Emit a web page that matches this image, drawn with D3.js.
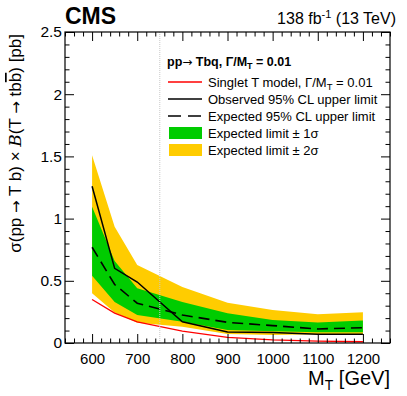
<!DOCTYPE html>
<html><head><meta charset="utf-8">
<script src="https://cdn.jsdelivr.net/npm/d3@7"></script>
<style>
body{margin:0;background:#fff;}
svg{display:block;font-family:"Liberation Sans",Arial,sans-serif;}
</style></head>
<body><svg id="c" width="407" height="396"></svg>
<script>
const mass     = [600, 650, 700, 800, 900, 1000, 1100, 1200];
const theory   = [0.35, 0.24, 0.17, 0.095, 0.045, 0.025, 0.015, 0.01];
const observed = [1.26, 0.60, 0.49, 0.17, 0.088, 0.084, 0.07, 0.07];
const expected = [0.77, 0.47, 0.32, 0.225, 0.166, 0.14, 0.113, 0.123];
const exp1Up   = [1.095, 0.66, 0.44, 0.33, 0.24, 0.185, 0.165, 0.18];
const exp1Dn   = [0.54, 0.33, 0.225, 0.17, 0.104, 0.095, 0.086, 0.086];
const exp2Up   = [1.51, 0.935, 0.627, 0.45, 0.324, 0.265, 0.232, 0.247];
const exp2Dn   = [0.40, 0.245, 0.163, 0.13, 0.072, 0.065, 0.07, 0.07];
const xMajor = [600, 700, 800, 900, 1000, 1100, 1200];
const yMajor = [0, 0.5, 1, 1.5, 2, 2.5];
const refMass = 750;

const svg = d3.select("#c");
const L = 65, R = 390, T = 32, B = 343;
const x = d3.scaleLinear().domain([540, 1260]).range([L, R]);
const y = d3.scaleLinear().domain([0, 2.5]).range([B, T]);
const rows = mass.map((m, i) => ({m, th: theory[i], ob: observed[i], ex: expected[i],
  u1: exp1Up[i], d1: exp1Dn[i], u2: exp2Up[i], d2: exp2Dn[i]}));

const area = (u, d) => d3.area().x(r => x(r.m)).y0(r => y(r[d])).y1(r => y(r[u]));
const line = k => d3.line().x(r => x(r.m)).y(r => y(r[k]));
const DASH = "11,6";
const ARROW = "DejaVu Sans, sans-serif";

svg.append("path").datum(rows).attr("d", area("u2", "d2")).attr("fill", "#ffcc00");
svg.append("path").datum(rows).attr("d", area("u1", "d1")).attr("fill", "#00cc00");
svg.append("path").datum(rows).attr("d", line("th")).attr("fill", "none").attr("stroke", "#ff0000").attr("stroke-width", 1.3);
svg.append("path").datum(rows).attr("d", line("ex")).attr("fill", "none").attr("stroke", "#000").attr("stroke-width", 1.6).attr("stroke-dasharray", DASH);
svg.append("path").datum(rows).attr("d", line("ob")).attr("fill", "none").attr("stroke", "#000").attr("stroke-width", 1.5);

svg.append("line").attr("x1", x(refMass)).attr("x2", x(refMass)).attr("y1", T).attr("y2", B)
  .attr("stroke", "#c8c8c8").attr("stroke-width", 1).attr("stroke-dasharray", "1,1");

// axes
const xMinor = d3.range(540, 1261, 20).filter(v => v % 100 !== 0);
const yMinor = d3.range(0, 25).map(v => v / 10).filter(v => Math.round(v * 10) % 5 !== 0);
function styleAxis(g) { g.select(".domain").remove(); g.selectAll("line").attr("stroke", "#000"); g.selectAll("text").attr("fill", "#000"); }
svg.append("g").attr("transform", `translate(0,${B})`)
  .call(d3.axisBottom(x).tickValues(xMajor).tickSize(-9).tickPadding(10).tickFormat(d3.format("d")))
  .call(styleAxis).selectAll("text").attr("font-size", 15).attr("font-family", "Liberation Sans, Arial, sans-serif");
svg.append("g").attr("transform", `translate(0,${B})`)
  .call(d3.axisBottom(x).tickValues(xMinor).tickSize(-4.5).tickFormat("")).call(styleAxis);
svg.append("g").attr("transform", `translate(0,${T})`)
  .call(d3.axisTop(x).tickValues(xMajor).tickSize(-9).tickFormat("")).call(styleAxis);
svg.append("g").attr("transform", `translate(0,${T})`)
  .call(d3.axisTop(x).tickValues(xMinor).tickSize(-4.5).tickFormat("")).call(styleAxis);
svg.append("g").attr("transform", `translate(${L},0)`)
  .call(d3.axisLeft(y).tickValues(yMajor).tickSize(-9).tickPadding(3).tickFormat(d3.format("~g")))
  .call(styleAxis).selectAll("text").attr("font-size", 15.5).attr("font-family", "Liberation Sans, Arial, sans-serif");
svg.append("g").attr("transform", `translate(${L},0)`)
  .call(d3.axisLeft(y).tickValues(yMinor).tickSize(-4.5).tickFormat("")).call(styleAxis);
svg.append("g").attr("transform", `translate(${R},0)`)
  .call(d3.axisRight(y).tickValues(yMajor).tickSize(-9).tickFormat("")).call(styleAxis);
svg.append("g").attr("transform", `translate(${R},0)`)
  .call(d3.axisRight(y).tickValues(yMinor).tickSize(-4.5).tickFormat("")).call(styleAxis);
svg.append("rect").attr("x", L).attr("y", T).attr("width", R - L).attr("height", B - T)
  .attr("fill", "none").attr("stroke", "#000").attr("stroke-width", 1.2);

// titles
svg.append("text").attr("x", L).attr("y", 24).attr("font-size", 23).attr("font-weight", "bold").text("CMS");
const lum = svg.append("text").attr("x", 396).attr("y", 24).attr("text-anchor", "end").attr("font-size", 16);
lum.append("tspan").text("138 fb");
lum.append("tspan").attr("font-size", 11).attr("dy", -6).text("-1");
lum.append("tspan").attr("dy", 6).text(" (13 TeV)");

const xl = svg.append("text").attr("x", R).attr("y", 385).attr("text-anchor", "end").attr("font-size", 20);
xl.append("tspan").text("M");
xl.append("tspan").attr("font-size", 14).attr("dy", 5).text("T");
xl.append("tspan").attr("dy", -5).text(" [GeV]");

const yl = svg.append("text").attr("transform", `translate(21,${T + 2}) rotate(-90)`).attr("text-anchor", "end").attr("font-size", 17);
yl.append("tspan").text("σ(pp ");
yl.append("tspan").attr("font-family", ARROW).attr("font-size", 15).text("→");
yl.append("tspan").text(" T b) × ");
yl.append("tspan").attr("font-style", "italic").attr("font-family", "DejaVu Serif, serif").text("B");
yl.append("tspan").text("(T ");
yl.append("tspan").attr("font-family", ARROW).attr("font-size", 15).text("→");
yl.append("tspan").text(" tb");
yl.append("tspan").attr("text-decoration", "overline").text("b");
yl.append("tspan").text(") [pb]");

// legend
const lx = 168, tx = 208;
const hd = svg.append("text").attr("x", 167).attr("y", 66).attr("font-size", 12.5).attr("font-weight", "bold");
hd.append("tspan").text("pp");
hd.append("tspan").attr("font-family", ARROW).attr("font-weight", "normal").attr("font-size", 12).text("→");
hd.append("tspan").text(" Tbq, Γ/M");
hd.append("tspan").attr("font-size", 9).attr("dy", 3).text("T");
hd.append("tspan").attr("dy", -3).text(" = 0.01");
const legend = [
  {type: "line", color: "#ff0000", dash: null, label: ["Singlet T model, Γ/M", "T", " = 0.01"]},
  {type: "line", color: "#000", dash: null, label: ["Observed 95% CL upper limit"]},
  {type: "line", color: "#000", dash: "13,7", label: ["Expected 95% CL upper limit"]},
  {type: "box", color: "#00cc00", label: ["Expected limit ± 1σ"]},
  {type: "box", color: "#ffcc00", label: ["Expected limit ± 2σ"]}
];
legend.forEach((e, i) => {
  const cy = 82 + i * 17;
  if (e.type === "line") {
    svg.append("line").attr("x1", lx).attr("x2", 202).attr("y1", cy).attr("y2", cy)
      .attr("stroke", e.color).attr("stroke-width", e.color === "#000" ? 1.5 : 1.3).attr("stroke-dasharray", e.dash);
  } else {
    svg.append("rect").attr("x", 169).attr("y", cy - 6).attr("width", 33).attr("height", 12).attr("fill", e.color);
  }
  const t = svg.append("text").attr("x", tx).attr("y", cy + 4.5).attr("font-size", 13);
  t.append("tspan").text(e.label[0]);
  if (e.label.length > 1) {
    t.append("tspan").attr("font-size", 9.5).attr("dy", 3).text(e.label[1]);
    t.append("tspan").attr("dy", -3).text(e.label[2]);
  }
});
</script></body></html>
